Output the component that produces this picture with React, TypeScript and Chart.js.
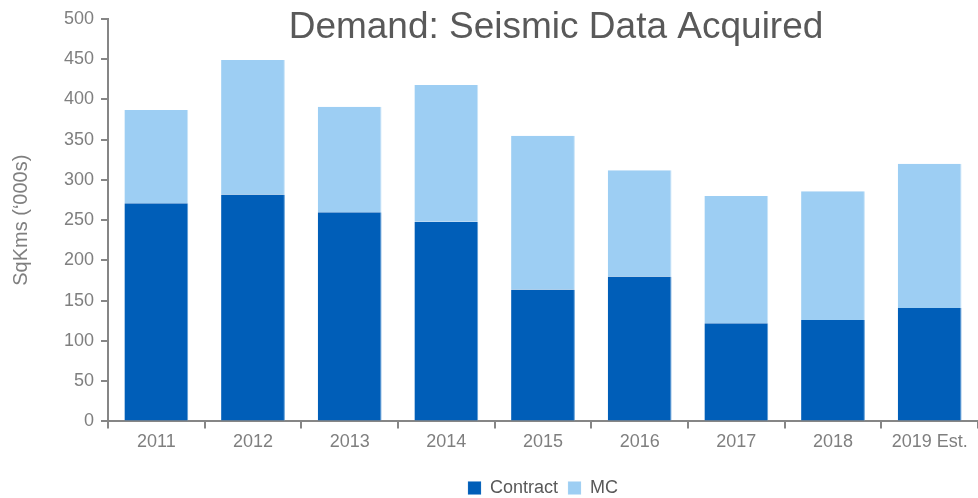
import React, { useEffect, useRef } from "react";
import { Chart, registerables } from "chart.js";

Chart.register(...registerables);

const categories = ["2011", "2012", "2013", "2014", "2015", "2016", "2017", "2018", "2019 Est."];
const contractValues = [271, 282, 260, 248, 164, 180, 122, 126, 141];
const mcValues = [116, 167, 131, 170, 191, 132, 158, 160, 179];
const titleText = "Demand: Seismic Data Acquired";
const yAxisTitle = "SqKms (\u2018000s)";

const FONT = "'Liberation Sans', Arial, sans-serif";
const AXIS_GRAY = "#868686";
const LABEL_GRAY = "#7f7f7f";

const titlePlugin = {
  id: "innerTitle",
  afterDraw(chart: any) {
    const { ctx, chartArea } = chart;
    ctx.save();
    ctx.font = `37px ${FONT}`;
    ctx.fillStyle = "#595959";
    ctx.textAlign = "center";
    ctx.textBaseline = "alphabetic";
    ctx.fillText(titleText, (chartArea.left + chartArea.right) / 2 + 13, 38);
    ctx.restore();
  },
};

export default function App() {
  const ref = useRef<HTMLCanvasElement | null>(null);
  useEffect(() => {
    document.body.style.margin = "0";
    const chart = new Chart(ref.current as HTMLCanvasElement, {
      type: "bar",
      data: {
        labels: categories,
        datasets: [
          {
            label: "Contract",
            data: contractValues,
            backgroundColor: "#005EB8",
            borderColor: "#5B9BD5",
            borderWidth: { right: 1 } as any,
            barPercentage: 0.66,
            categoryPercentage: 1,
          },
          {
            label: "MC",
            data: mcValues,
            backgroundColor: "#9DCEF3",
            borderColor: "#C9E4F8",
            borderWidth: { right: 1 } as any,
            barPercentage: 0.66,
            categoryPercentage: 1,
          },
        ],
      },
      options: {
        animation: false,
        responsive: false,
        maintainAspectRatio: false,
        layout: { padding: { top: 19, left: 0, right: 0, bottom: -9 } },
        plugins: {
          title: { display: false },
          tooltip: { enabled: false },
          legend: {
            display: true,
            position: "bottom",
            fullSize: false,
            labels: {
              boxWidth: 13,
              boxHeight: 13,
              padding: 10,
              color: "#595959",
              font: { family: FONT, size: 18 },
            },
          },
        },
        scales: {
          x: {
            stacked: true,
            afterFit(scale: any) {
              scale.height += 13;
            },
            grid: {
              offset: true,
              drawOnChartArea: false,
              drawTicks: true,
              tickLength: 7,
              color: AXIS_GRAY,
              lineWidth: 2,
            },
            border: { display: true, color: AXIS_GRAY, width: 2 },
            ticks: {
              color: LABEL_GRAY,
              font: { family: FONT, size: 18 },
              padding: 3,
              maxRotation: 0,
              autoSkip: false,
            },
          },
          y: {
            stacked: true,
            min: 0,
            max: 500,
            afterFit(scale: any) {
              scale.width = 108;
            },
            grid: {
              drawOnChartArea: false,
              drawTicks: true,
              tickLength: 7,
              color: AXIS_GRAY,
              lineWidth: 2,
            },
            border: { display: true, color: AXIS_GRAY, width: 2 },
            ticks: {
              stepSize: 50,
              color: LABEL_GRAY,
              font: { family: FONT, size: 18 },
              padding: 7,
            },
            title: {
              display: true,
              text: yAxisTitle,
              color: LABEL_GRAY,
              font: { family: FONT, size: 20 },
              padding: { top: 9, bottom: 10 },
            },
          },
        },
      },
      plugins: [titlePlugin],
    });
    return () => chart.destroy();
  }, []);
  return (
    <div style={{ width: 978, height: 498 }}>
      <canvas ref={ref} width={978} height={498} style={{ display: "block" }} />
    </div>
  );
}
